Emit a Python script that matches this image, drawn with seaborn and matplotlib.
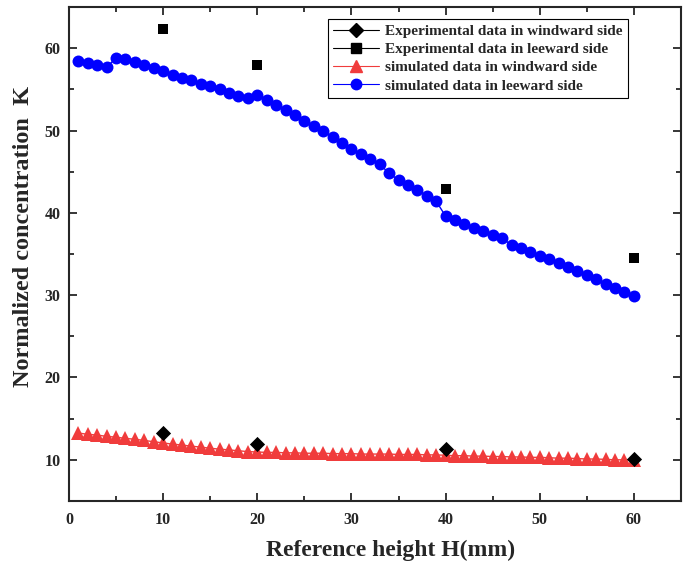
import numpy as np
import pandas as pd
import matplotlib
matplotlib.use("Agg")
import matplotlib.pyplot as plt
from matplotlib.lines import Line2D
from matplotlib.ticker import MultipleLocator
import seaborn as sns

exp_x = [10, 20, 40, 60]
exp_windward = [13.3, 11.9, 11.3, 10.1]
exp_leeward = [62.3, 58.0, 42.9, 34.5]

sim_x = list(range(1, 61))
sim_windward = [13.25, 13.1, 13.0, 12.85, 12.75, 12.6, 12.5, 12.35, 12.2, 12.05,
                11.9, 11.8, 11.65, 11.55, 11.4, 11.3, 11.2, 11.1, 11.0, 10.95,
                10.9, 10.9, 10.85, 10.85, 10.8, 10.8, 10.8, 10.75, 10.75, 10.75,
                10.7, 10.7, 10.7, 10.7, 10.65, 10.65, 10.65, 10.6, 10.6, 10.55,
                10.5, 10.5, 10.45, 10.45, 10.4, 10.4, 10.35, 10.35, 10.3, 10.3,
                10.25, 10.2, 10.2, 10.15, 10.1, 10.1, 10.05, 10.0, 10.0, 9.95]
sim_leeward = [58.5, 58.25, 57.95, 57.7, 58.8, 58.65, 58.35, 57.95, 57.55, 57.2,
               56.8, 56.4, 56.1, 55.7, 55.35, 55.0, 54.6, 54.25, 53.9, 54.35,
               53.7, 53.05, 52.45, 51.85, 51.15, 50.5, 49.9, 49.2, 48.5, 47.8,
               47.2, 46.55, 45.9, 44.8, 44.0, 43.4, 42.8, 42.1, 41.4, 39.6,
               39.1, 38.65, 38.2, 37.8, 37.3, 36.9, 36.1, 35.7, 35.3, 34.8,
               34.35, 33.9, 33.4, 32.9, 32.4, 31.95, 31.3, 30.9, 30.4, 29.9]

labels = ["Experimental data in windward side", "Experimental data in leeward side",
          "simulated data in windward side", "simulated data in leeward side"]
red = "#F03C3C"
blue = "#0000FF"

sns.set_style("ticks")
plt.rcParams["font.family"] = ["Liberation Serif", "DejaVu Serif"]
plt.rcParams["font.weight"] = "bold"

fig = plt.figure(figsize=(6.88, 5.65), dpi=100)
ax = fig.add_axes([0.1003, 0.1133, 0.8895, 0.8743])

sim = pd.DataFrame({"x": sim_x, "wind": sim_windward, "lee": sim_leeward})
exp = pd.DataFrame({"x": exp_x, "wind": exp_windward, "lee": exp_leeward})

sns.lineplot(data=sim, x="x", y="wind", ax=ax, color=red, lw=1, marker="^",
             markersize=10.5, markeredgewidth=0, zorder=2)
sns.lineplot(data=sim, x="x", y="lee", ax=ax, color=blue, lw=1, marker="o",
             markersize=8.6, markeredgewidth=0, zorder=2)
sns.scatterplot(data=exp, x="x", y="wind", ax=ax, color="black", marker="D",
                s=60, linewidth=0, zorder=3)
sns.scatterplot(data=exp, x="x", y="lee", ax=ax, color="black", marker="s",
                s=55, linewidth=0, zorder=3)

ax.set_xlim(0, 65)
ax.set_ylim(5, 65)
ax.xaxis.set_minor_locator(MultipleLocator(5))
ax.yaxis.set_minor_locator(MultipleLocator(5))
ax.set_xticks([0, 10, 20, 30, 40, 50, 60])
ax.set_yticks([10, 20, 30, 40, 50, 60])
ax.tick_params(which="both", direction="in", top=True, right=True, width=1.3,
               labelsize=11.5, pad=8)
ax.tick_params(which="major", length=6)
ax.tick_params(which="minor", length=3.5)
ax.tick_params(axis="y", pad=6)
for lab in ax.get_xticklabels() + ax.get_yticklabels():
    lab.set_fontweight("bold")
for sp in ax.spines.values():
    sp.set_linewidth(1.5)

ax.set_xlabel("Reference height H(mm)", fontsize=17, fontweight="bold")
ax.set_ylabel("Normalized concentration  K", fontsize=17.5, fontweight="bold")
ax.xaxis.set_label_coords(0.525, -0.078)
ax.yaxis.set_label_coords(-0.058, 0.536)

handles = [
    Line2D([], [], color="black", lw=0.8, marker="D", markersize=7),
    Line2D([], [], color="black", lw=0.8, marker="s", markersize=6.5),
    Line2D([], [], color=red, lw=0.8, marker="^", markersize=8),
    Line2D([], [], color=blue, lw=0.8, marker="o", markersize=7.5),
]
leg = ax.legend(handles, labels, loc="upper right", bbox_to_anchor=(0.913, 0.976),
                prop={"family": "Liberation Serif", "weight": "bold", "size": 11},
                frameon=True, fancybox=False, edgecolor="black", framealpha=1,
                handlelength=3.0, borderpad=0.35, labelspacing=0.3,
                handletextpad=0.4, borderaxespad=0)
leg.get_frame().set_linewidth(0.8)

fig.savefig("out.png", dpi=100)
